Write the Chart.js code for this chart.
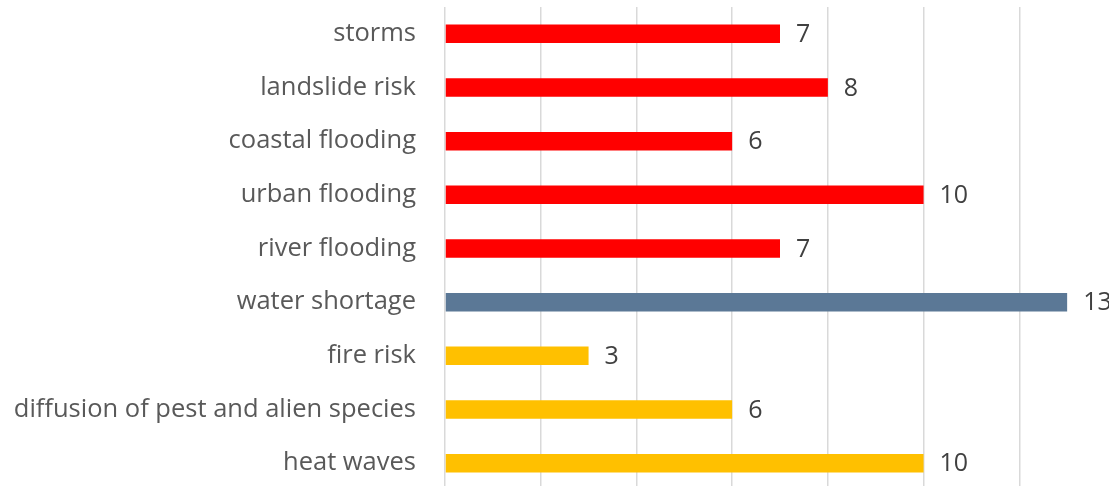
<!DOCTYPE html>
<html>
<head>
<meta charset="utf-8">
<script src="https://cdn.jsdelivr.net/npm/chart.js@4"></script>
<style>
html,body{margin:0;padding:0;background:#fff;overflow:hidden;}
canvas{position:absolute;left:0;top:0;}
</style>
</head>
<body>
<canvas id="c" width="1120" height="490" style="width:1120px;height:490px"></canvas>
<script>
const categories = ['storms','landslide risk','coastal flooding','urban flooding','river flooding','water shortage','fire risk','diffusion of pest and alien species','heat waves'];
const values = [7, 8, 6, 10, 7, 13, 3, 6, 10];
const barColors = ['#FF0000','#FF0000','#FF0000','#FF0000','#FF0000','#5B7896','#FFC000','#FFC000','#FFC000'];
const tickValues = [0, 2, 4, 6, 8, 10, 12, 14];

const FONT = '"Open Sans", sans-serif';

const valueLabels = {
  id: 'valueLabels',
  afterDatasetsDraw(chart) {
    const ctx = chart.ctx;
    const meta = chart.getDatasetMeta(0);
    ctx.save();
    ctx.font = '25px ' + FONT;
    ctx.fillStyle = '#404040';
    ctx.textAlign = 'left';
    ctx.textBaseline = 'middle';
    meta.data.forEach((bar, i) => {
      ctx.fillText(String(values[i]), bar.x + 16, bar.y + 1);
    });
    ctx.restore();
  }
};

new Chart(document.getElementById('c'), {
  type: 'bar',
  data: {
    labels: categories,
    datasets: [{
      data: values,
      backgroundColor: barColors,
      borderWidth: 0,
      categoryPercentage: 1,
      barPercentage: 0.345
    }]
  },
  options: {
    indexAxis: 'y',
    responsive: false,
    maintainAspectRatio: false,
    animation: false,
    layout: { padding: { top: 7, right: 5, bottom: 0, left: 0 } },
    plugins: { legend: { display: false }, tooltip: { enabled: false } },
    scales: {
      x: {
        min: 0, max: 14,
        afterBuildTicks(scale) { scale.ticks = tickValues.map(v => ({ value: v })); },
        ticks: { display: false },
        grid: { color: '#D9D9D9', lineWidth: 1.5, drawTicks: false },
        border: { display: false },
        afterFit(scale) { scale.height = 0; }
      },
      y: {
        ticks: { color: '#595959', font: { family: FONT, size: 25.5 }, padding: 29 },
        grid: { display: false, drawTicks: false },
        border: { display: false },
        afterFit(scale) { scale.width = 445; scale.paddingTop = 0; scale.paddingBottom = 0; }
      }
    }
  },
  plugins: [valueLabels]
});
</script>
</body>
</html>
